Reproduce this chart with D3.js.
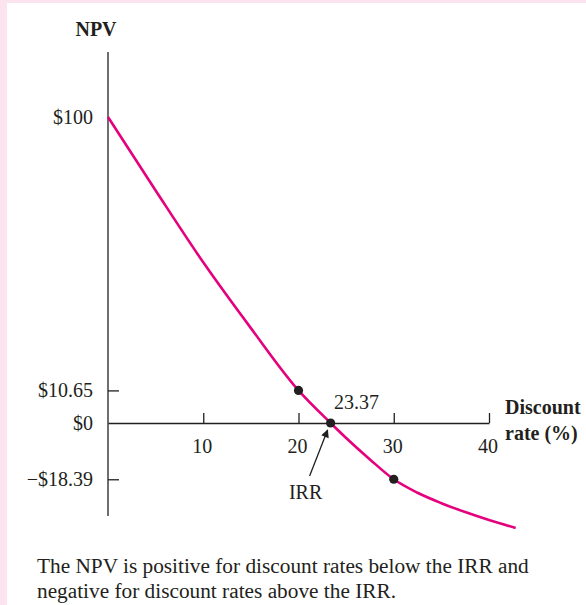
<!DOCTYPE html>
<html>
<head>
<meta charset="utf-8">
<script src="https://cdn.jsdelivr.net/npm/d3@7"></script>
<style>
body { margin: 0; }
svg { display: block; font-family: "Liberation Serif", "Times New Roman", serif; }
</style>
</head>
<body>
<script>
// npv profile
let rates = [0, 5, 10, 15, 20, 23.37, 25, 27.5, 30, 32.5, 35, 37.5, 40, 42.8];
let npvs = [100, 76, 52.5, 31, 10.65, 0, -4.9, -11.9, -18.39, -22.8, -26.2, -29.1, -31.7, -34.3];

let markRates = [20, 23.37, 30];
let markNpvs = [10.65, 0, -18.39];

let xTicks = [10, 20, 30, 40];
let yTicks = [100, 10.65, 0, -18.39];
let yTickLabels = ['$100', '$10.65', '$0', '\u2212$18.39'];

let svgWidth = 586, svgHeight = 605;
let fontSize = 20, capSize = 21.3;
let ink = '#231f20';

let svg = d3.select('body').append('svg')
    .attr('width', svgWidth).attr('height', svgHeight)

svg.append('rect').attr('width', svgWidth).attr('height', svgHeight).attr('fill', '#fce4ee')
svg.append('rect').attr('x', 7).attr('y', 3)
    .attr('width', svgWidth - 7).attr('height', svgHeight - 3).attr('fill', '#fff')

let xScale = d3.scaleLinear().domain([0, 40]).range([108, 489])
let yScale = d3.scaleLinear().domain([0, 100]).range([423, 117])

let x0 = xScale(0), y0 = yScale(0);

// y axis line (runs past the data both ways)
svg.append('line')
    .attr('x1', x0).attr('x2', x0).attr('y1', 52).attr('y2', 516)
    .attr('stroke', ink).attr('stroke-width', 1.3)

let y_axis = d3.axisRight(yScale).tickValues([10.65, -18.39]).tickSize(11).tickFormat('')
let gy = svg.append('g').attr('transform', 'translate(' + x0 + ',0)').call(y_axis)
gy.select('.domain').remove()
gy.selectAll('line').attr('stroke', ink).attr('stroke-width', 1.3)

svg.selectAll('.ylab')
    .data(yTicks)
    .enter()
    .append('text')
    .attr('class', 'ylab')
    .text((d, i) => yTickLabels[i])
    .attr('x', 93)
    .attr('y', (d) => yScale(d) + 6.5)
    .attr('text-anchor', 'end')
    .attr('font-size', fontSize)
    .attr('fill', ink)

let x_axis = d3.axisTop(xScale).tickValues(xTicks).tickSize(10).tickSizeOuter(0).tickFormat('')
let gx = svg.append('g').attr('transform', 'translate(0,' + y0 + ')').call(x_axis)
gx.select('.domain').attr('stroke', ink).attr('stroke-width', 1.3)
gx.selectAll('line').attr('stroke', ink).attr('stroke-width', 1.3)

svg.selectAll('.xlab')
    .data(xTicks)
    .enter()
    .append('text')
    .attr('class', 'xlab')
    .text((d) => d)
    .attr('x', (d) => xScale(d) - 1)
    .attr('y', y0 + 30)
    .attr('text-anchor', 'middle')
    .attr('font-size', fontSize)
    .attr('fill', ink)

// axis titles
svg.append('text').text('NPV')
    .attr('x', 96).attr('y', 36).attr('text-anchor', 'middle')
    .attr('font-size', fontSize).attr('font-weight', 'bold').attr('fill', ink)

svg.append('text').text('Discount')
    .attr('x', 505).attr('y', y0 - 9)
    .attr('font-size', fontSize).attr('font-weight', 'bold').attr('fill', ink)
svg.append('text').text('rate (%)')
    .attr('x', 505).attr('y', y0 + 17)
    .attr('font-size', fontSize).attr('font-weight', 'bold').attr('fill', ink)

// npv curve
let line = d3.line()
    .x((d, i) => xScale(rates[i]))
    .y((d) => yScale(d))
    .curve(d3.curveMonotoneX)

svg.append('path')
    .datum(npvs)
    .attr('d', line)
    .attr('fill', 'none')
    .attr('stroke', '#e5007d')
    .attr('stroke-width', 2.6)

svg.selectAll('.mark')
    .data(markNpvs)
    .enter()
    .append('circle')
    .attr('class', 'mark')
    .attr('cx', (d, i) => xScale(markRates[i]))
    .attr('cy', (d) => yScale(d))
    .attr('r', 4.6)
    .attr('fill', ink)

// IRR annotation
let irrX = xScale(23.37);
svg.append('text').text('23.37')
    .attr('x', irrX + 26).attr('y', y0 - 14).attr('text-anchor', 'middle')
    .attr('font-size', fontSize).attr('fill', ink)

svg.append('text').text('IRR')
    .attr('x', irrX - 25).attr('y', y0 + 76).attr('text-anchor', 'middle')
    .attr('font-size', fontSize).attr('fill', ink)

svg.append('defs').append('marker')
    .attr('id', 'head').attr('viewBox', '0 0 10 10')
    .attr('refX', 9).attr('refY', 5)
    .attr('markerWidth', 10).attr('markerHeight', 8)
    .attr('markerUnits', 'userSpaceOnUse')
    .attr('orient', 'auto')
    .append('path').attr('d', 'M0,0L10,5L0,10Z').attr('fill', ink)

svg.append('line')
    .attr('x1', irrX - 21).attr('y1', y0 + 53)
    .attr('x2', irrX - 3).attr('y2', y0 + 7)
    .attr('stroke', ink).attr('stroke-width', 1.3)
    .attr('marker-end', 'url(#head)')

// caption
let caption = ['The NPV is positive for discount rates below the IRR and',
    'negative for discount rates above the IRR.'];
svg.selectAll('.cap')
    .data(caption)
    .enter()
    .append('text')
    .attr('class', 'cap')
    .text((d) => d)
    .attr('x', 37)
    .attr('y', (d, i) => 573 + i * 24.5)
    .attr('font-size', capSize)
    .attr('fill', ink)
</script>
</body>
</html>
